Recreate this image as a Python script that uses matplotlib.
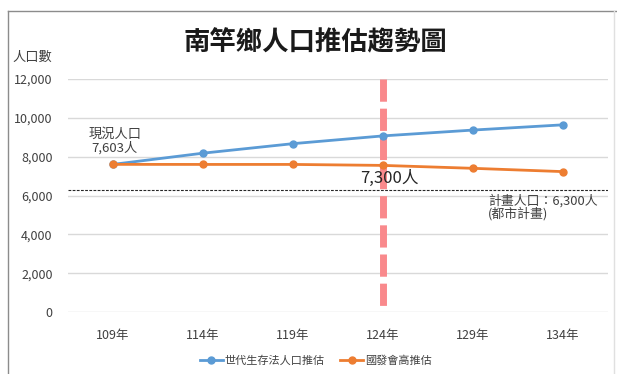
import matplotlib
matplotlib.use("Agg")
import matplotlib.pyplot as plt
from matplotlib.lines import Line2D

plt.rcParams['font.family'] = ['Noto Sans CJK TC', 'DejaVu Sans']
plt.rcParams['lines.scale_dashes'] = False

# data
years = ['109年', '114年', '119年', '124年', '129年', '134年']
generation_est = [7603, 8180, 8670, 9070, 9370, 9640]   # 世代生存法人口推估
ndc_high_est = [7603, 7600, 7600, 7550, 7400, 7230]     # 國發會高推估
plan_pop = 6300
target_year_idx = 3
y_ticks = [0, 2000, 4000, 6000, 8000, 10000, 12000]

W, H = 617, 374
fig = plt.figure(figsize=(W / 100, H / 100), dpi=100)
ax = fig.add_axes([68 / W, 1 - 312 / H, (608 - 68) / W, (312 - 79) / H])

x = list(range(len(years)))

# grid
for v in y_ticks:
    ax.axhline(v, color='#D9D9D9', linewidth=1, zorder=0)

# target year marker (thick pink dashes)
ax.plot([target_year_idx, target_year_idx], [12000, 0], color='#F9898C',
        linewidth=5, dashes=(16, 5), solid_capstyle='butt',
        dash_capstyle='butt', zorder=1)

# planned population line
ax.axhline(plan_pop, color='#262626', linewidth=0.8, dashes=(2, 1), zorder=2)

ax.plot(x, generation_est, color='#5B9BD5', linewidth=2, marker='o',
        markersize=5, label='世代生存法人口推估', zorder=3)
ax.plot(x, ndc_high_est, color='#ED7D31', linewidth=2, marker='o',
        markersize=5, label='國發會高推估', zorder=3)

ax.set_xlim(-0.5, len(years) - 0.5)
ax.set_ylim(0, 12000)
ax.set_xticks(x)
ax.set_xticklabels(years)
ax.set_yticks(y_ticks)
ax.set_yticklabels([f'{v:,}' for v in y_ticks])
ax.tick_params(axis='both', length=0, labelsize=9, labelcolor='#404040')
ax.tick_params(axis='y', pad=11)
ax.tick_params(axis='x', pad=12)
for s in ax.spines.values():
    s.set_visible(False)

# annotations
ax.text(0.02, 8800, '現況人口\n7,603人', ha='center', va='center',
        fontsize=9.5, color='#404040', linespacing=1.1)
ax.text(3.07, 6900, '7,300人', ha='center', va='center', fontsize=12,
        color='#262626')
ax.text(4.17, 5400, '計畫人口：6,300人\n(都市計畫)', ha='left', va='center',
        multialignment='left', fontsize=9.3, color='#404040',
        linespacing=0.95)

fig.text(315 / W, 1 - 43 / H, '南竿鄉人口推估趨勢圖', ha='center', va='center',
         fontsize=19, fontweight='bold', color='#1a1a1a')
fig.text(12 / W, 1 - 57 / H, '人口數', ha='left', va='center',
         fontsize=9.5, color='#404040')

fig.legend(loc='center', bbox_to_anchor=(316 / W, 1 - 361 / H), ncol=2,
           frameon=False, fontsize=8, handlelength=2.0, handletextpad=0.2,
           columnspacing=1.4, labelcolor='#404040')

# outer frame of the chart
frame = dict(color='#8C8C8C', linewidth=1)
fig.add_artist(Line2D([7.5 / W, 1], [1 - 11 / H, 1 - 11 / H], **frame))
fig.add_artist(Line2D([7.5 / W, 7.5 / W], [0, 1 - 11 / H], **frame))
fig.add_artist(Line2D([614 / W, 614 / W], [0, 1 - 11 / H],
                      color='#E0E0E0', linewidth=1))

fig.savefig('out.png', dpi=100)
